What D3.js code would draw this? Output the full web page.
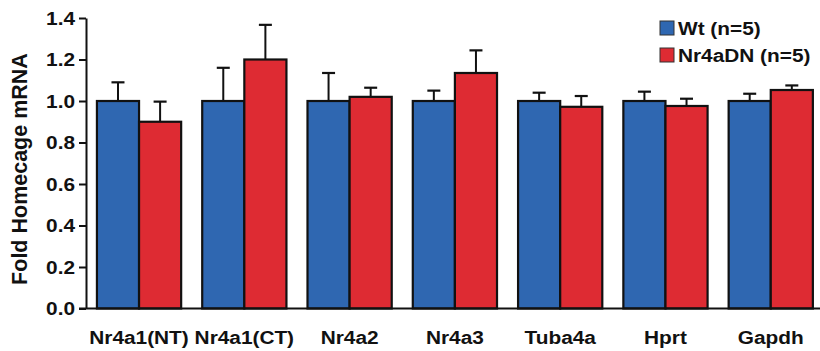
<!DOCTYPE html>
<html>
<head>
<meta charset="utf-8">
<script src="https://cdn.jsdelivr.net/npm/d3@7"></script>
<style>
  body { margin: 0; background: #fff; }
  text { font-family: "Liberation Sans", Arial, sans-serif; font-weight: bold; fill: #111; }
</style>
</head>
<body>
<script>
const categories = ['Nr4a1(NT)', 'Nr4a1(CT)', 'Nr4a2', 'Nr4a3', 'Tuba4a', 'Hprt', 'Gapdh'];
const seriesNames = ['Wt (n=5)', 'Nr4aDN (n=5)'];
const wtMean = [1, 1, 1, 1, 1, 1, 1];
const wtErr = [0.09, 0.16, 0.135, 0.05, 0.04, 0.045, 0.035];
const dnMean = [0.90, 1.20, 1.02, 1.135, 0.972, 0.976, 1.053];
const dnErr = [0.097, 0.167, 0.044, 0.109, 0.052, 0.035, 0.022];
const yTicks = [0, 0.2, 0.4, 0.6, 0.8, 1.0, 1.2, 1.4];

const colors = ['#2f67b1', '#de2b33'];
const width = 820;
const height = 351;
const fs = 17.5;
const sx = 1.19; // labels look horizontally stretched

const svg = d3.select('body')
  .append('svg')
  .attr('width', width)
  .attr('height', height);

const y = d3.scaleLinear()
  .domain([0, 1.4])
  .range([308.5, 18]);

const x = d3.scaleBand()
  .domain(categories)
  .range([86.4, 823.4])
  .paddingInner(0.2)
  .paddingOuter(0.1);

const xs = d3.scaleBand()
  .domain([0, 1])
  .range([0, x.bandwidth()]);

const data = categories.map((c, i) => ({
  cat: c,
  vals: [
    {s: 0, mean: wtMean[i], err: wtErr[i]},
    {s: 1, mean: dnMean[i], err: dnErr[i]}
  ]
}));

const groups = svg.append('g')
  .selectAll('g')
  .data(data)
  .join('g')
  .attr('transform', d => `translate(${x(d.cat)},0)`);

// error bars (upward only)
groups.selectAll('line.err')
  .data(d => d.vals)
  .join('line')
  .attr('class', 'err')
  .attr('x1', d => xs(d.s) + xs.bandwidth() / 2)
  .attr('x2', d => xs(d.s) + xs.bandwidth() / 2)
  .attr('y1', d => y(d.mean))
  .attr('y2', d => y(d.mean + d.err))
  .attr('stroke', '#111')
  .attr('stroke-width', 2);

groups.selectAll('line.cap')
  .data(d => d.vals)
  .join('line')
  .attr('class', 'cap')
  .attr('x1', d => xs(d.s) + xs.bandwidth() / 2 - 6.5)
  .attr('x2', d => xs(d.s) + xs.bandwidth() / 2 + 6.5)
  .attr('y1', d => y(d.mean + d.err))
  .attr('y2', d => y(d.mean + d.err))
  .attr('stroke', '#111')
  .attr('stroke-width', 2.2);

groups.selectAll('rect')
  .data(d => d.vals)
  .join('rect')
  .attr('x', d => xs(d.s))
  .attr('y', d => y(d.mean))
  .attr('width', xs.bandwidth())
  .attr('height', d => y(0) - y(d.mean))
  .attr('fill', d => colors[d.s])
  .attr('stroke', '#111')
  .attr('stroke-width', 2.2);

// y axis
const yAxis = svg.append('g')
  .attr('transform', 'translate(86,0)')
  .call(d3.axisLeft(y).tickValues(yTicks).tickFormat(d3.format('.1f')).tickSize(7).tickSizeOuter(0));

yAxis.select('.domain').attr('stroke', '#111').attr('stroke-width', 2);
yAxis.selectAll('.tick line').attr('stroke', '#111').attr('stroke-width', 2);
yAxis.selectAll('.tick text')
  .attr('x', 0)
  .attr('dy', '0.36em')
  .attr('transform', `translate(-11,0) scale(${sx},1)`)
  .style('font-size', fs + 'px')
  .style('font-family', '"Liberation Sans", Arial, sans-serif')
  .style('font-weight', 'bold')
  .attr('fill', '#111');

// x axis
const xAxis = svg.append('g')
  .attr('transform', `translate(0,${y(0)})`)
  .call(d3.axisBottom(x).tickSize(0).tickSizeOuter(0));

xAxis.select('.domain')
  .attr('d', `M79,0H${width}`)
  .attr('stroke', '#111')
  .attr('stroke-width', 2);
xAxis.selectAll('.tick text')
  .attr('y', 0)
  .attr('dy', 0)
  .attr('transform', `translate(0,35) scale(${sx},1)`)
  .style('font-size', fs + 'px')
  .style('font-family', '"Liberation Sans", Arial, sans-serif')
  .style('font-weight', 'bold')
  .attr('fill', '#111');

// y title
svg.append('text')
  .attr('transform', `translate(27,169) rotate(-90)`)
  .attr('text-anchor', 'middle')
  .style('font-size', '21.5px')
  .text('Fold Homecage mRNA');

// legend
const legend = svg.append('g')
  .selectAll('g')
  .data(seriesNames)
  .join('g')
  .attr('transform', (d, i) => `translate(660,${21 + i * 27})`);

legend.append('rect')
  .attr('width', 14)
  .attr('height', 14)
  .attr('fill', (d, i) => colors[i])
  .attr('stroke', '#333')
  .attr('stroke-width', 1);

legend.append('text')
  .attr('transform', `translate(18,14) scale(${sx},1)`)
  .style('font-size', fs + 'px')
  .text(d => d);
</script>
</body>
</html>
